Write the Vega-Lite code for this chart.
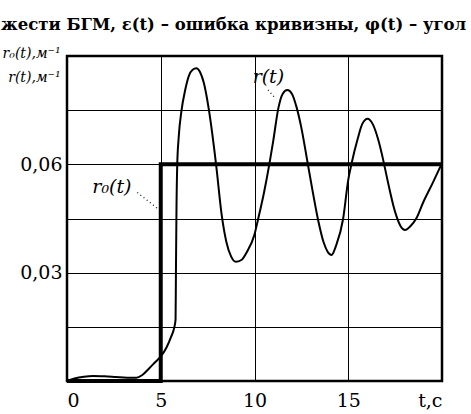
{
  "$schema": "https://vega.github.io/schema/vega-lite/v6.json",
  "width": 375,
  "height": 325,
  "autosize": {"type": "none"},
  "padding": {"left": 67, "top": 56, "right": 29, "bottom": 33},
  "background": "white",
  "title": {
    "text": "жести БГМ, ε(t) – ошибка кривизны, φ(t) – угол",
    "anchor": "start",
    "frame": "group",
    "dx": -66,
    "offset": 0,
    "baseline": "alphabetic",
    "font": "DejaVu Serif",
    "fontSize": 16.5,
    "fontWeight": "bold",
    "color": "black"
  },
  "config": {
    "view": {"stroke": "black", "strokeWidth": 2.5},
    "axis": {
      "labelFont": "DejaVu Serif",
      "titleFont": "DejaVu Serif",
      "labelColor": "black",
      "titleColor": "black",
      "gridColor": "black",
      "gridOpacity": 1,
      "gridWidth": 1,
      "domain": false,
      "ticks": false
    }
  },
  "datasets": {
    "r0": [
      {"t": 0, "v": 0},
      {"t": 5, "v": 0.06},
      {"t": 20, "v": 0.06}
    ],
    "r": [
      {"t": 0, "v": 0},
      {"t": 0.4, "v": 0.0007},
      {"t": 0.9, "v": 0.0012},
      {"t": 1.4, "v": 0.0014},
      {"t": 2.0, "v": 0.0013},
      {"t": 2.6, "v": 0.0011},
      {"t": 3.2, "v": 0.0009},
      {"t": 3.7, "v": 0.0009},
      {"t": 4.0, "v": 0.0016},
      {"t": 4.4, "v": 0.0036},
      {"t": 4.7, "v": 0.0052},
      {"t": 5.0, "v": 0.0068},
      {"t": 5.3, "v": 0.0092},
      {"t": 5.55, "v": 0.0122},
      {"t": 5.72, "v": 0.0148},
      {"t": 5.79, "v": 0.017},
      {"t": 5.81, "v": 0.03},
      {"t": 5.84, "v": 0.048},
      {"t": 5.88, "v": 0.06},
      {"t": 5.95, "v": 0.067},
      {"t": 6.11, "v": 0.075},
      {"t": 6.3, "v": 0.0805},
      {"t": 6.5, "v": 0.0845},
      {"t": 6.7, "v": 0.0862},
      {"t": 6.9, "v": 0.0866},
      {"t": 7.1, "v": 0.0855},
      {"t": 7.3, "v": 0.0825},
      {"t": 7.57, "v": 0.075},
      {"t": 7.95, "v": 0.06},
      {"t": 8.25, "v": 0.046},
      {"t": 8.5, "v": 0.0385},
      {"t": 8.75, "v": 0.0345},
      {"t": 9.0, "v": 0.033},
      {"t": 9.3, "v": 0.0335},
      {"t": 9.6, "v": 0.0358},
      {"t": 9.99, "v": 0.0404},
      {"t": 10.2, "v": 0.045},
      {"t": 10.5, "v": 0.052},
      {"t": 10.79, "v": 0.06},
      {"t": 11.0, "v": 0.0665},
      {"t": 11.27, "v": 0.0755},
      {"t": 11.5, "v": 0.0795},
      {"t": 11.75, "v": 0.0806},
      {"t": 12.0, "v": 0.0795},
      {"t": 12.25, "v": 0.0757},
      {"t": 12.5, "v": 0.0701},
      {"t": 12.83, "v": 0.0605},
      {"t": 13.1, "v": 0.0526},
      {"t": 13.4, "v": 0.0444},
      {"t": 13.7, "v": 0.0382},
      {"t": 13.9, "v": 0.0358},
      {"t": 14.11, "v": 0.0349},
      {"t": 14.35, "v": 0.0375},
      {"t": 14.73, "v": 0.045},
      {"t": 15.0, "v": 0.0557},
      {"t": 15.18, "v": 0.0603},
      {"t": 15.5, "v": 0.067},
      {"t": 15.75, "v": 0.0712},
      {"t": 16.03, "v": 0.0726},
      {"t": 16.3, "v": 0.0712},
      {"t": 16.6, "v": 0.0668},
      {"t": 16.86, "v": 0.0613},
      {"t": 17.0, "v": 0.0579},
      {"t": 17.2, "v": 0.0531},
      {"t": 17.4, "v": 0.0487},
      {"t": 17.58, "v": 0.0455},
      {"t": 17.8, "v": 0.0428},
      {"t": 18.03, "v": 0.0418},
      {"t": 18.3, "v": 0.0428},
      {"t": 18.65, "v": 0.0452},
      {"t": 19.0, "v": 0.0495},
      {"t": 19.5, "v": 0.0548},
      {"t": 19.95, "v": 0.0598}
    ],
    "labels": [
      {"t": 1.35, "v": 0.0537, "label": "r₀(t)"},
      {"t": 9.9, "v": 0.0842, "label": "r(t)"}
    ],
    "leaders": [
      {"t": 3.75, "v": 0.0522, "t2": 4.8, "v2": 0.0479},
      {"t": 10.72, "v": 0.0806, "t2": 11.09, "v2": 0.0784}
    ]
  },
  "encoding": {
    "x": {
      "field": "t",
      "type": "quantitative",
      "scale": {"domain": [0, 20], "nice": false, "zero": false},
      "axis": {
        "values": [0, 5, 10, 15, 20],
        "labelExpr": "datum.value == 20 ? 't,c' : datum.label",
        "labelFontSize": 19,
        "labelPadding": 10,
        "title": null,
        "grid": true
      }
    },
    "y": {
      "field": "v",
      "type": "quantitative",
      "scale": {"domain": [0, 0.09], "nice": false},
      "axis": {
        "values": [0.015, 0.03, 0.045, 0.06, 0.075],
        "labelExpr": "datum.value == 0.03 || datum.value == 0.06 ? replace(format(datum.value, '.2f'), '.', ',') : ''",
        "labelFontSize": 19,
        "labelPadding": 5,
        "grid": true,
        "title": ["r₀(t),м⁻¹", "r(t),м⁻¹"],
        "titleAngle": 0,
        "titleAlign": "right",
        "titleBaseline": "alphabetic",
        "titleX": -7,
        "titleY": 1,
        "titleFontSize": 14,
        "titleFontStyle": "italic",
        "titleFontWeight": "normal",
        "titleLineHeight": 24
      }
    }
  },
  "layer": [
    {
      "data": {"name": "r0"},
      "mark": {"type": "line", "interpolate": "step-after", "color": "black", "strokeWidth": 4}
    },
    {
      "data": {"name": "r"},
      "mark": {"type": "line", "interpolate": "monotone", "color": "black", "strokeWidth": 2}
    },
    {
      "data": {"name": "leaders"},
      "mark": {"type": "rule", "color": "black", "strokeWidth": 1.2, "strokeDash": [1, 3]},
      "encoding": {
        "x2": {"field": "t2"},
        "y2": {"field": "v2"}
      }
    },
    {
      "data": {"name": "labels"},
      "mark": {"type": "text", "font": "DejaVu Serif", "fontSize": 19, "fontStyle": "italic", "color": "black", "align": "left", "baseline": "middle"},
      "encoding": {
        "text": {"field": "label"},
        "x": {"field": "t", "type": "quantitative"}
      }
    }
  ]
}
